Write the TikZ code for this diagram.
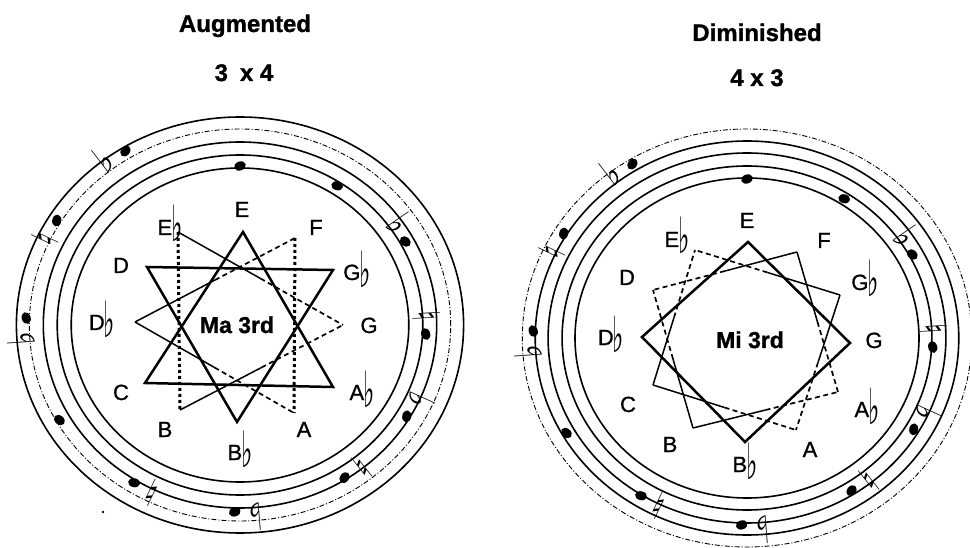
\documentclass[tikz,border=0pt]{standalone}
\usepackage{fontspec}
\setmainfont{Liberation Sans}
\newfontfamily\accfont{DejaVu Sans}
\newfontfamily\labfont[FakeBold=0.9]{Liberation Sans}
\newfontfamily\heavyfont[FakeBold=1.2]{Liberation Sans Bold}
\usetikzlibrary{calc,shapes.geometric}
\newcommand\fl{\kern-1pt{\accfont\fontsize{40}{40}\selectfont\raisebox{-7pt}{\scalebox{0.6}[1.25]{♭}}}}
\newcommand\accglyph[1]{\scalebox{0.75}[1]{#1}}
\newcommand\halfedge[2]{%
  \draw[thinline] (#1) -- ($(#1)!0.5!(#2)$);
  \draw[dashline] ($(#1)!0.5!(#2)$) -- (#2);}
\begin{document}
\begin{tikzpicture}[x=1pt,y=-1pt,
  ring/.style={line width=1.6pt},
  ringdot/.style={line width=0.9pt, dash pattern=on 5pt off 2pt on 1pt off 2pt},
  thickline/.style={line width=2.5pt, line join=miter},
  thinline/.style={line width=1.5pt},
  dashline/.style={line width=1.7pt, dash pattern=on 5pt off 3.5pt},
  dotline/.style={line width=3pt, dash pattern=on 3pt off 3pt},
  notehead/.style={ellipse, fill=black, inner sep=0pt, minimum width=12pt, minimum height=9pt},
  acc/.style={font=\accfont\fontsize{38}{38}\selectfont, inner sep=0pt},
  lab/.style={font=\labfont\fontsize{22}{22}\selectfont, inner sep=0pt, anchor=base},
  ctr/.style={font=\heavyfont\fontsize{23}{23}\selectfont, inner sep=0pt, anchor=base},
  ttl/.style={font=\heavyfont\fontsize{24}{24}\selectfont, inner sep=0pt, anchor=base}]
\useasboundingbox (0,0) rectangle (970,548);
\fill[white] (0,0) rectangle (970,548);

% ---------- titles
\node[ttl] (tAug) at (245,32) {Augmented};
\node[ttl] (tAugN) at (244,81) {3\enspace x 4};
\node[ttl] (tDim) at (757,41) {Diminished};
\node[ttl] (tDimN) at (757,86) {4 x 3};

% ---------- rings, left
\draw[ring]    (240,325) ellipse [x radius=223.6pt, y radius=208pt];
\draw[ringdot] (240,325) ellipse [x radius=210.7pt, y radius=196pt];
\draw[ring]    (240,325) ellipse [x radius=196.7pt, y radius=183pt];
\draw[ring]    (240,325) ellipse [x radius=182.8pt, y radius=170pt];
\draw[ring]    (240,325) ellipse [x radius=168.8pt, y radius=157pt];
% ---------- rings, right
\draw[ringdot] (747,338) ellipse [x radius=224.7pt, y radius=209pt];
\draw[ring]    (747,338) ellipse [x radius=211.8pt, y radius=197pt];
\draw[ring]    (747,338) ellipse [x radius=198.9pt, y radius=185pt];
\draw[ring]    (747,338) ellipse [x radius=184.9pt, y radius=172pt];
\draw[ring]    (747,338) ellipse [x radius=172pt, y radius=160pt];

% ---------- notes on the spiral staff
\foreach \a/\r/\i in {0/159/0, 33/166/1, 61.5/175/2, 93/173/3, 120.5/180/4,
    147.5/181/5, 181.5/187/6, 212/186/7, 240.5/193/8, 272/199/9, 301.5/200/10, 328.5/204/11} {
  \node[notehead, rotate=-\a+20] (nL\i) at ({240+1.075*\r*sin(\a)},{325-\r*cos(\a)}) {};
  \node[notehead, rotate=-\a+20] (nR\i) at ({747+1.075*\r*sin(\a)},{338-\r*cos(\a)}) {};
}
\foreach \a/\r/\g/\i in {61.5/180/♭/2, 93/174/♮/3, 120.5/185/♭/4, 147.5/182/♮/5,
    181.5/192/♭/6, 212/187/♮/7, 272/204/♭/9, 301.5/201/♮/10, 328.5/209/♭/11} {
  \node[acc, rotate=-\a+6] (aL\i) at ({240+1.075*\r*sin(\a-6)},{325-\r*cos(\a-6)}) {\accglyph{\g}};
  \node[acc, rotate=-\a+6] (aR\i) at ({747+1.075*\r*sin(\a-6)},{338-\r*cos(\a-6)}) {\accglyph{\g}};
}
\fill (103,512) circle [radius=1.3pt];

% ---------- left star (augmented)
\coordinate (LE) at (243,232);  \coordinate (LAb) at (333,387); \coordinate (LC) at (145,383);
\coordinate (LD) at (147,267);  \coordinate (LGb) at (333,270); \coordinate (LBb) at (237,422);
\coordinate (LF) at (295,238);  \coordinate (LA) at (294,413);  \coordinate (LDb) at (135,322);
\coordinate (LEb) at (178,232); \coordinate (LG) at (343,325);  \coordinate (LB) at (180,410);
\draw[dotline] (LEb) -- (LB);
\draw[dotline] (LF) -- (LA);
\halfedge{LEb}{LG}
\halfedge{LB}{LG}
\halfedge{LDb}{LF}
\halfedge{LDb}{LA}
\draw[thickline] (LE) -- (LAb) -- (LC) -- cycle;
\draw[thickline] (LD) -- (LGb) -- (LBb) -- cycle;

% ---------- right star (diminished)
\coordinate (RE) at (748,242);  \coordinate (RG) at (850,343);  \coordinate (RBb) at (745,442); \coordinate (RDb) at (642,337);
\coordinate (RF) at (797,252);  \coordinate (RAb) at (838,392); \coordinate (RB) at (693,428);  \coordinate (RD) at (653,290);
\coordinate (RGb) at (840,295); \coordinate (RA) at (796,430);  \coordinate (RC) at (653,385);  \coordinate (REb) at (695,250);
\halfedge{RF}{RAb}
\halfedge{RB}{RAb}
\halfedge{RB}{RD}
\halfedge{RF}{RD}
\halfedge{RGb}{REb}
\halfedge{RGb}{RA}
\halfedge{RC}{RA}
\halfedge{RC}{REb}
\draw[thickline] (RE) -- (RG) -- (RBb) -- (RDb) -- cycle;

% ---------- left labels
\node[lab] (tLE)  at (242,217) {E};
\node[lab] (tLF)  at (316,235) {F};
\node[lab] (tLGb) at (357,280) {G\fl};
\node[lab] (tLG)  at (369,333) {G};
\node[lab] (tLAb) at (362,400) {A\fl};
\node[lab] (tLA)  at (304,437) {A};
\node[lab] (tLBb) at (240,460) {B\fl};
\node[lab] (tLB)  at (165,437) {B};
\node[lab] (tLC)  at (121,400) {C};
\node[lab] (tLDb) at (102,330) {D\fl};
\node[lab] (tLD)  at (121,273) {D};
\node[lab] (tLEb) at (170,235) {E\fl};
\node[ctr] (mL)   at (237,333) {Ma 3rd};

% ---------- right labels
\node[lab] (tRE)  at (747,228) {E};
\node[lab] (tRF)  at (824,248) {F};
\node[lab] (tRGb) at (865,290) {G\fl};
\node[lab] (tRG)  at (874,348) {G};
\node[lab] (tRAb) at (867,417) {A\fl};
\node[lab] (tRA)  at (810,457) {A};
\node[lab] (tRBb) at (745,472) {B\fl};
\node[lab] (tRB)  at (670,452) {B};
\node[lab] (tRC)  at (628,412) {C};
\node[lab] (tRDb) at (611,345) {D\fl};
\node[lab] (tRD)  at (627,285) {D};
\node[lab] (tREb) at (677,247) {E\fl};
\node[ctr] (mR)   at (750,348) {Mi 3rd};
\end{tikzpicture}
\end{document}
